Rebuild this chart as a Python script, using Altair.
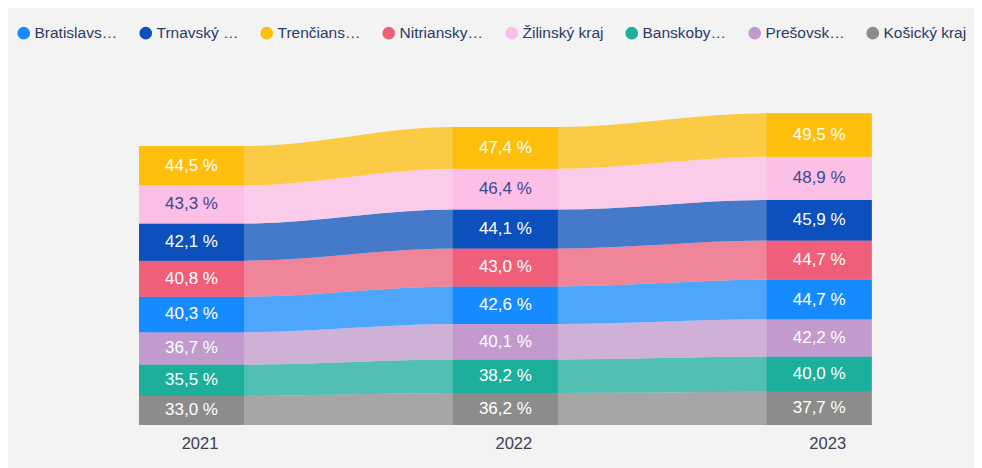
import altair as alt
import pandas as pd

years = ["2021", "2022", "2023"]
regions = ["Bratislavský kraj", "Trnavský kraj", "Trenčiansky kraj", "Nitriansky kraj",
           "Žilinský kraj", "Banskobystrický kraj", "Prešovský kraj", "Košický kraj"]
colors = ["#168BFF", "#0B50BC", "#FDBE0C", "#EF5F79", "#FCBFE6", "#1BAF9C", "#C39ACE", "#8C8C8C"]

bratislavsky = [40.3, 42.6, 44.7]
trnavsky = [42.1, 44.1, 45.9]
trenciansky = [44.5, 47.4, 49.5]
nitriansky = [40.8, 43.0, 44.7]
zilinsky = [43.3, 46.4, 48.9]
banskobystricky = [35.5, 38.2, 40.0]
presovsky = [36.7, 40.1, 42.2]
kosicky = [33.0, 36.2, 37.7]

series = [bratislavsky, trnavsky, trenciansky, nitriansky,
          zilinsky, banskobystricky, presovsky, kosicky]

# ranked stacking per year (smallest at the bottom), ties keep previous order
rows = []
prev_rank = list(range(len(regions)))
for yi in range(len(years)):
    order = sorted(range(len(regions)), key=lambda r: (series[r][yi], prev_rank[r]))
    base = 0.0
    for pos, r in enumerate(order):
        v = series[r][yi]
        rows.append({"region": regions[r], "idx": yi, "value": v,
                     "y0": base, "y1": base + v})
        base += v
        prev_rank[r] = pos
bars = pd.DataFrame(rows)
ribs = pd.concat([bars.assign(edge=-1), bars.assign(edge=1)], ignore_index=True)

HW = 0.1673
FONT = "Liberation Sans"
year_js = "[" + ",".join("'%s'" % y for y in years) + "]"

xscale = alt.Scale(domain=[-0.5847, 2.4932], nice=False, zero=False)
yscale = alt.Scale(domain=[0, 472.8], nice=False, zero=False)
xaxis = alt.Axis(values=[0, 1, 2], labelExpr=year_js + "[datum.value]", domain=False,
                 ticks=False, grid=False, labelPadding=10, labelFontSize=16.5,
                 labelOffset=8, labelColor="#3a4050", labelFont=FONT, title=None)

cscale = alt.Scale(domain=regions, range=colors)
legend = alt.Legend(
    orient="none", legendX=8, legendY=17, direction="horizontal", title=None,
    symbolType="circle", symbolSize=160, symbolStrokeWidth=0, symbolOpacity=1,
    labelFont=FONT, labelFontSize=15.5, labelColor="#2b3a67", labelLimit=86,
    labelOffset=3, columnPadding=20, padding=0)
color = alt.Color("region:N", scale=cscale, legend=legend)

ribbon = alt.Chart(ribs).transform_calculate(
    xx="datum.idx + datum.edge * %f" % HW
).mark_area(interpolate="monotone", opacity=0.75).encode(
    x=alt.X("xx:Q", scale=xscale, axis=xaxis),
    y=alt.Y("y0:Q", scale=yscale, axis=None, stack=False),
    y2="y1:Q",
    color=color,
    detail="region:N",
)

rect = alt.Chart(bars).transform_calculate(
    xa="datum.idx - %f" % HW, xb="datum.idx + %f" % HW
).mark_rect().encode(
    x=alt.X("xa:Q", scale=xscale, axis=xaxis),
    x2="xb:Q",
    y=alt.Y("y0:Q", scale=yscale, axis=None),
    y2="y1:Q",
    color=color,
)

text = alt.Chart(bars).transform_calculate(
    ym="(datum.y0 + datum.y1) / 2",
    lab="replace(format(datum.value, '.1f'), '.', ',') + ' %'"
).mark_text(font=FONT, fontSize=17, baseline="middle", align="center").encode(
    x=alt.X("idx:Q", scale=xscale, axis=xaxis),
    y=alt.Y("ym:Q", scale=yscale, axis=None),
    text="lab:N",
    color=alt.condition(alt.datum.region == "Žilinský kraj",
                        alt.value("#3a4a92"), alt.value("#ffffff")),
)

chart = alt.layer(ribbon, rect, text).properties(
    width=966, height=417,
    padding={"left": 0, "right": 0, "top": 0, "bottom": 43},
    autosize=alt.AutoSizeParams(type="none"),
    background="#f3f3f3",
).configure_view(strokeWidth=0)

chart.save("out.html", embed_options={"renderer": "svg", "actions": False})
